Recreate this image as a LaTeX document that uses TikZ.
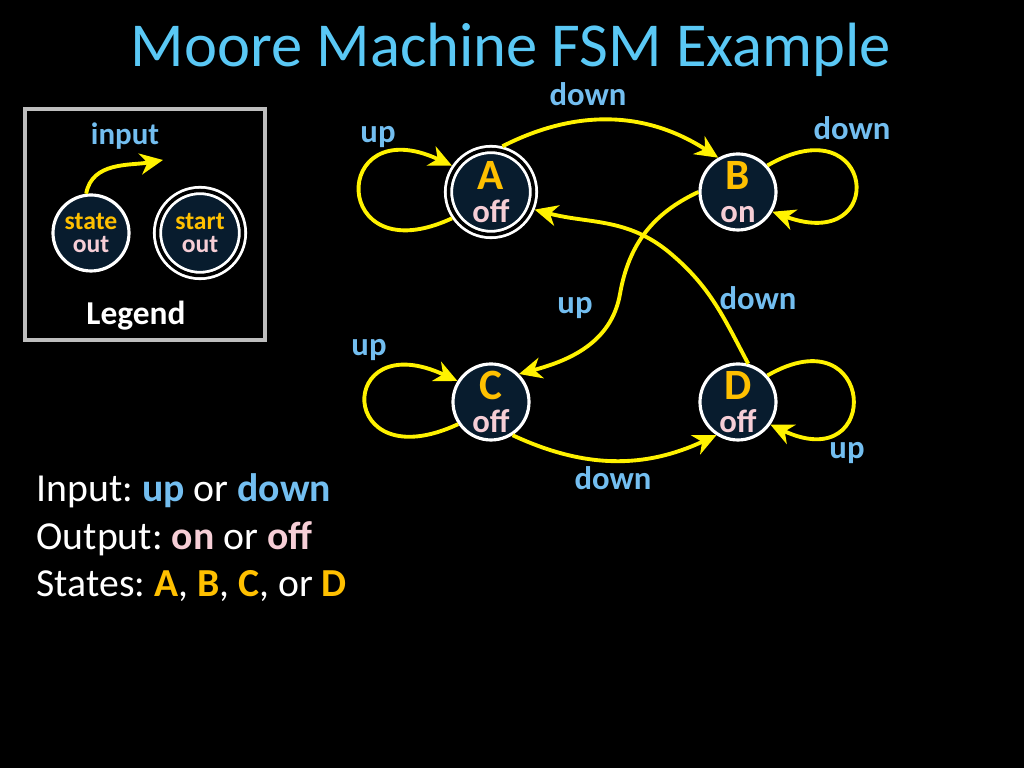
\documentclass[tikz,border=0pt]{standalone}
\usepackage{fontspec}
\setmainfont{Carlito}
\usetikzlibrary{arrows.meta}

\definecolor{titleblue}{RGB}{90,200,245}
\definecolor{lblblue}{RGB}{115,190,240}
\definecolor{gold}{RGB}{255,192,0}
\definecolor{pinkout}{RGB}{246,206,214}
\definecolor{navy}{RGB}{8,28,46}
\definecolor{legendgray}{RGB}{190,190,190}

\newcommand{\stname}[1]{{\fontsize{12.3}{12}\selectfont\color{gold}#1}}
\newcommand{\stout}[1]{{\fontsize{9.3}{9}\selectfont\color{pinkout}#1}}
\newcommand{\lgname}[1]{{\color{gold}#1}}
\newcommand{\lgout}[1]{{\color{pinkout}#1}}
\newcommand{\inword}[1]{{\bfseries\color{lblblue}#1}}
\newcommand{\outword}[1]{{\bfseries\color{pinkout}#1}}
\newcommand{\stword}[1]{{\bfseries\color{gold}#1}}
\frenchspacing

\begin{document}
\begin{tikzpicture}[
    >={Stealth[length=6.5pt,width=6pt,inset=2pt]},
    fsmstate/.style = {
      draw = white,
      line width = 0.9pt,
      fill = navy,
      circle,
      inner sep = 0pt,
      minimum size = 0.76cm,
      align = center,
      font = \bfseries\fontsize{9}{9.6}\selectfont
    },
    startstate/.style = {
      fsmstate,
      line width = 0.8pt,
      double = black,
      double distance = 1pt,
      outer sep = 1.3pt,
      minimum size = 0.85cm
    },
    trans/.style = {->, draw = yellow, line width = 1.1pt},
    lbl/.style = {text = lblblue, font = \bfseries\fontsize{9.3}{10}\selectfont}
  ]
  \fill[black] (0,0) rectangle (10.24,7.68);
  \useasboundingbox (0,0) rectangle (10.24,7.68);

  \node[anchor=base, text=titleblue, font=\fontsize{17.8}{20}\selectfont] (title) at (5.11,7.01) {Moore Machine FSM Example};

  % legend
  \draw[legendgray, line width=1.4pt] (0.25,4.28) rectangle (2.65,6.59);
  \node[fsmstate, font=\bfseries\fontsize{7.3}{6.6}\selectfont] (lstate) at (0.91,5.35) {\lgname{state}\\\lgout{out}};
  \node[startstate, font=\bfseries\fontsize{7.3}{6.6}\selectfont] (lstart) at (2.00,5.35) {\lgname{start}\\\lgout{out}};
  \coordinate (lin) at (1.63,6.08);
  \draw[trans] (lstate.97) to[out=80,in=190] (lin);
  \node[lbl, font=\bfseries\fontsize{8.8}{10}\selectfont] (linput) at (1.25,6.32) {input};
  \node[text=white, font=\bfseries\fontsize{9.5}{10}\selectfont] (ltitle) at (1.36,4.52) {Legend};

  % states
  \node[startstate] (A) at (4.91,5.76) {\stname{A}\\\stout{off}};
  \node[fsmstate]   (B) at (7.38,5.76) {\stname{B}\\\stout{on}};
  \node[fsmstate]   (C) at (4.91,3.66) {\stname{C}\\\stout{off}};
  \node[fsmstate]   (D) at (7.38,3.66) {\stname{D}\\\stout{off}};

  \coordinate (bc) at (6.20,4.74);
  \coordinate (da) at (6.70,5.15);

  % transitions
  \draw[trans] (A.214) to[out=205,in=155,distance=1.35cm] (A.146);
  \draw[trans] (A.76) to[bend left=30] (B.120);
  \draw[trans] (B.42) to[out=30,in=-20,distance=1.25cm] (B.330);
  \draw[trans] (B.180) to[out=205,in=80] (bc) to[out=260,in=15] (C.45);
  \draw[trans] (D.75) to[out=118,in=-40] (da) to[out=140,in=-15] (A.338);
  \draw[trans] (C.214) to[out=205,in=155,distance=1.35cm] (C.148);
  \draw[trans] (C.303) to[bend right=25] (D.237);
  \draw[trans] (D.42) to[out=30,in=-25,distance=1.25cm] (D.325);

  \node[lbl] (ab)  at (5.88,6.74) {down};
  \node[lbl] (aa)  at (3.78,6.31) {up};
  \node[lbl] (bb)  at (8.52,6.40) {down};
  \node[lbl] (bcl) at (5.75,4.60) {up};
  \node[lbl] (dal) at (7.58,4.70) {down};
  \node[lbl] (cc)  at (3.69,4.18) {up};
  \node[lbl] (cd)  at (6.13,2.90) {down};
  \node[lbl] (dd)  at (8.47,3.15) {up};

  \node[anchor=north west, align=left, text=white, inner sep=0pt,
        font=\fontsize{11.3}{13.5}\selectfont] (info) at (0.36,2.95)
    {Input: \inword{up} or \inword{down}\\
     Output: \outword{on} or \outword{off}\\
     States: \stword{A}, \stword{B}, \stword{C}, or \stword{D}};
\end{tikzpicture}
\end{document}
